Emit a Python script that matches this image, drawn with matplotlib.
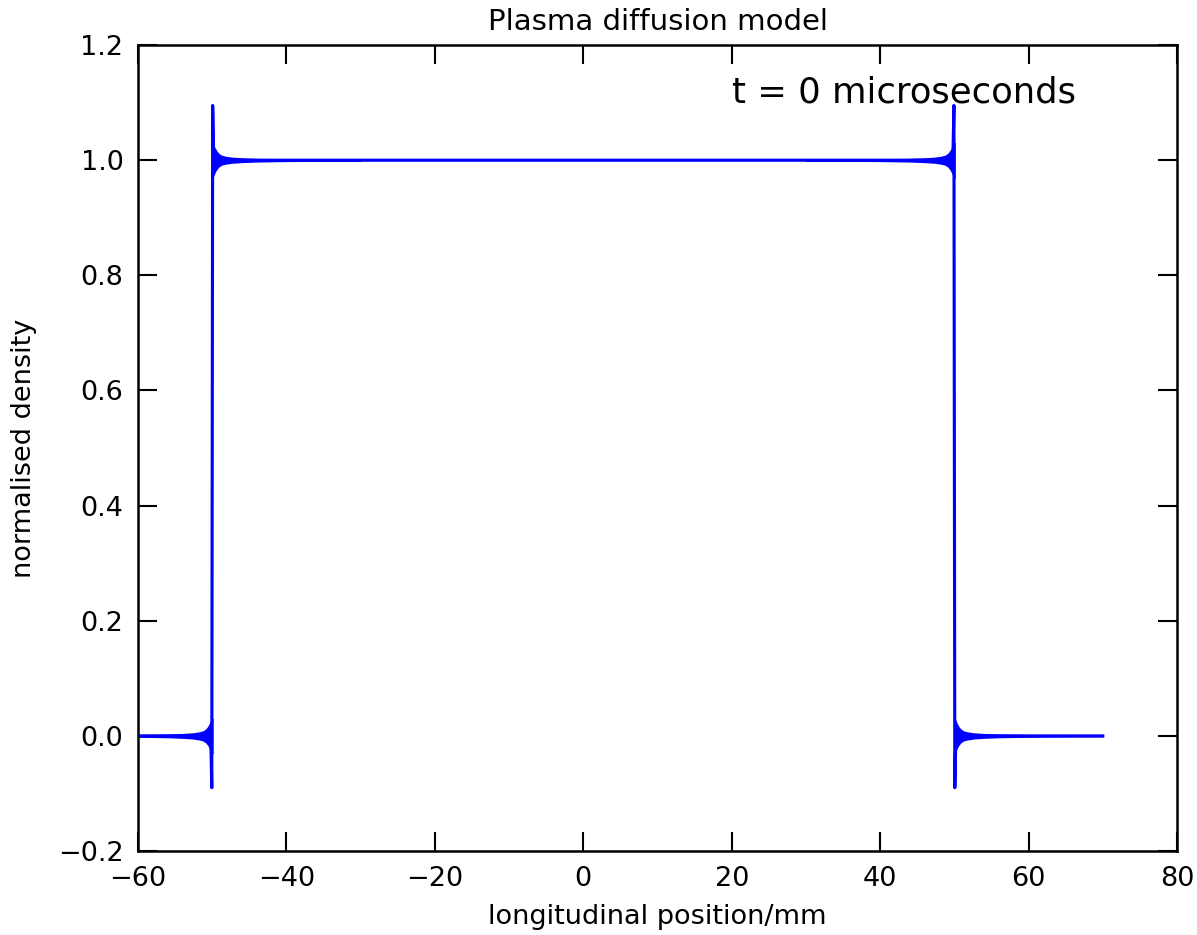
import numpy as np
import matplotlib
matplotlib.use('Agg')
import matplotlib.pyplot as plt

# density profile (top hat with overshoot spikes at the edges)
pos = [-60.0, -50.2, -50.06, -50.0, -49.94, -49.8, 49.8, 49.94, 50.0, 50.06, 50.2, 70.0]
dens = [0.0, 0.0, -0.09, 0.5, 1.095, 1.0, 1.0, 1.095, 0.5, -0.09, 0.0, 0.0]

# ringing envelope next to each edge: distance from edge (mm) and half width
ring_dist = [0.0, 0.1, 0.25, 0.5, 0.8, 1.2, 1.8, 2.6, 4.0, 6.0, 10.0, 20.0]
ring_amp = [0.03, 0.027, 0.022, 0.016, 0.011, 0.0075, 0.0055, 0.004, 0.0028, 0.0018, 0.001, 0.0002]

# (edge, direction, level) for the four ringing wedges
wedges = [(-50, -1, 0.0), (-50, 1, 1.0), (50, -1, 1.0), (50, 1, 0.0)]
wedge_end = [-60, 70]

xticks = [-60, -40, -20, 0, 20, 40, 60, 80]
yticks = [-0.2, 0.0, 0.2, 0.4, 0.6, 0.8, 1.0, 1.2]

plt.rcParams['font.family'] = 'DejaVu Sans'
fig = plt.figure(figsize=(1197/150, 935/150), dpi=150, facecolor='white')
ax = fig.add_axes([0.1153, 0.0898, 0.8680, 0.8620])

ax.plot(pos, dens, color='blue', lw=1.5)
d = np.array(ring_dist)
a = np.array(ring_amp)
for edge, sgn, lev in wedges:
    xx = edge + sgn*d
    keep = (xx >= wedge_end[0]) & (xx <= wedge_end[1])
    ax.fill_between(xx[keep], lev - a[keep], lev + a[keep], color='blue', lw=0.8, edgecolor='blue')

ax.set_xlim(-60, 80)
ax.set_ylim(-0.2, 1.2)
ax.set_xticks(xticks)
ax.set_yticks(yticks)
ax.set_yticklabels(['%.1f' % v if v >= 0 else '\u2212%.1f' % abs(v) for v in yticks])
ax.tick_params(direction='in', length=9, width=1, top=True, right=True, labelsize=13, pad=7)
for s in ax.spines.values():
    s.set_linewidth(1.2)

ax.set_title('Plasma diffusion model', fontsize=14, pad=7)
ax.set_xlabel('longitudinal position/mm', fontsize=13, labelpad=6)
ax.set_ylabel('normalised density', fontsize=13, labelpad=10)
ax.text(20, 1.1, 't = 0 microseconds', fontsize=17)

fig.savefig('out.png', dpi=150, facecolor='white')
